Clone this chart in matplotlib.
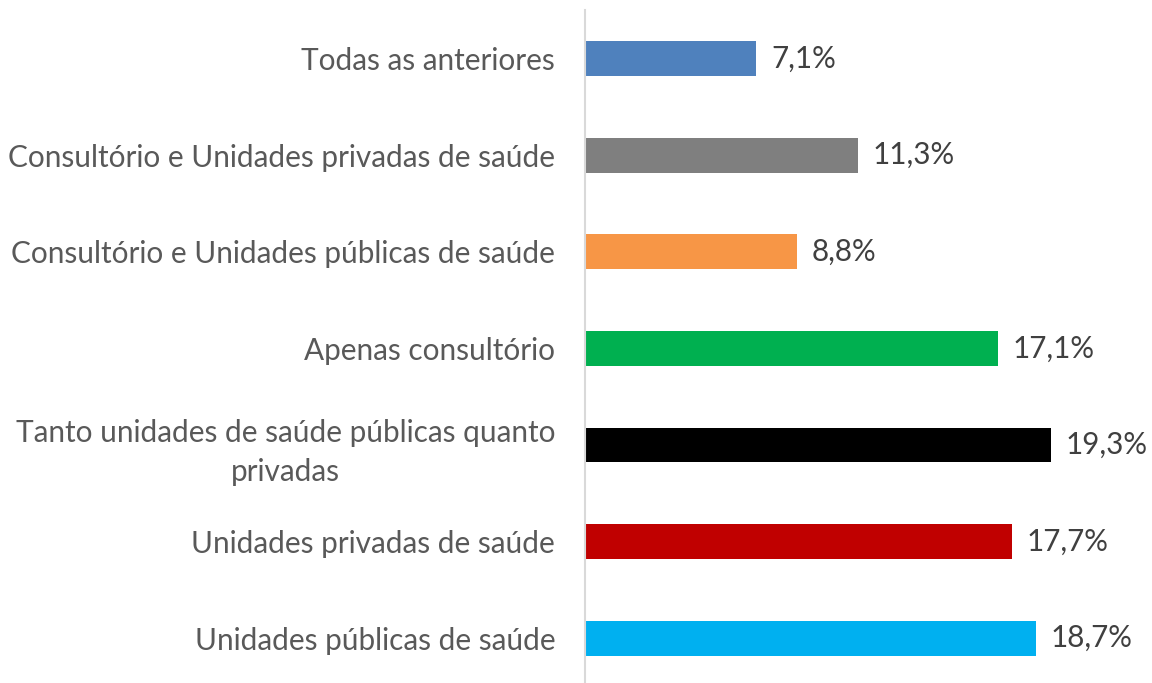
import matplotlib
matplotlib.use('Agg')
import matplotlib.pyplot as plt

# data (bottom to top)
categories = [
    'Unidades públicas de saúde',
    'Unidades privadas de saúde',
    'Tanto unidades de saúde públicas quanto\nprivadas',
    'Apenas consultório',
    'Consultório e Unidades públicas de saúde',
    'Consultório e Unidades privadas de saúde',
    'Todas as anteriores',
]
values = [18.7, 17.7, 19.3, 17.1, 8.8, 11.3, 7.1]
labels = ['18,7%', '17,7%', '19,3%', '17,1%', '8,8%', '11,3%', '7,1%']
colors = ['#00B0F0', '#C00000', '#000000', '#00B050', '#F79646', '#7F7F7F', '#4F81BD']

plt.rcParams['font.family'] = ['Lato', 'DejaVu Sans']
text_color = '#595959'

fig = plt.figure(figsize=(11.52, 6.83), dpi=100)
ax = fig.add_axes([0.508, -0.005, 0.492, 0.99])

y = range(len(categories))
ax.barh(y, values, height=0.36, color=colors)

for yi, v, lab in zip(y, values, labels):
    ax.text(v + 0.6, yi, lab, va='center', ha='left', fontsize=21.3, color='#404040')

ax.set_xlim(0, 23.5)
ax.set_ylim(-0.5, 6.5)
ax.set_yticks(list(y))
ax.set_yticklabels(categories, fontsize=21.4, color=text_color, ha='right',
                   multialignment='center', linespacing=1.45)
ax.tick_params(axis='y', length=0, pad=21.6)
ax.set_xticks([])

for s in ['top', 'right', 'bottom']:
    ax.spines[s].set_visible(False)
ax.spines['left'].set_color('#D9D9D9')
ax.spines['left'].set_linewidth(1.5)

fig.savefig('out.png', dpi=100)
